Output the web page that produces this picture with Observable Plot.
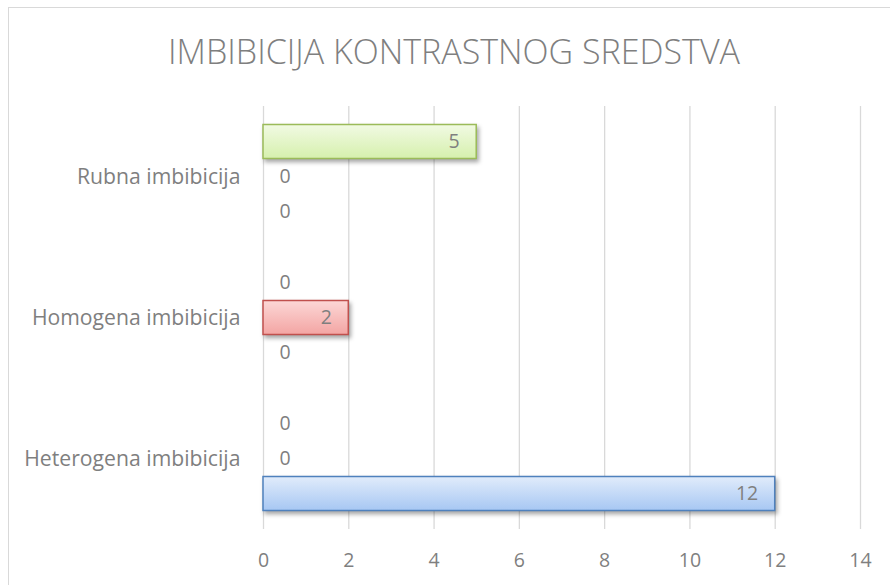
<!DOCTYPE html>
<html>
<head>
<meta charset="utf-8">
<script src="https://cdn.jsdelivr.net/npm/d3@7"></script>
<script src="https://cdn.jsdelivr.net/npm/@observablehq/plot@0.6"></script>
<style>
  html, body { margin: 0; padding: 0; background: #fff; }
  #wrap { position: relative; width: 890px; height: 585px; overflow: hidden; }
  #frame { position: absolute; left: 8px; top: 7px; width: 900px; height: 600px; border: 1px solid #d9d9d9; box-sizing: border-box; }
  #title { position: absolute; left: 8px; width: 892px; top: 31px; text-align: center;
           font-family: "Open Sans", sans-serif; font-weight: 300; font-size: 34px; color: #7f7f7f; line-height: 1.2; }
  #chart { position: absolute; left: 0; top: 0; }
  #chart svg text { font-size: 19.5px; }
  #chart svg text.catlabel { font-size: 21.2px; }
  #chart g[aria-label="bar"] rect { filter: drop-shadow(2px 3px 2px rgba(0,0,0,0.35)); }
</style>
</head>
<body>
<div id="wrap">
  <div id="frame"></div>
  <div id="chart"></div>
  <div id="title">IMBIBICIJA KONTRASTNOG SREDSTVA</div>
</div>
<script>
const categories = ["Heterogena imbibicija", "Homogena imbibicija", "Rubna imbibicija"];
const seriesNames = ["Serija 1", "Serija 2", "Serija 3"];
const serija1 = [12, 0, 0];
const serija2 = [0, 2, 0];
const serija3 = [0, 0, 5];
const xTicks = [0, 2, 4, 6, 8, 10, 12, 14];
const seriesFill = ["url(#gBlue)", "url(#gRed)", "url(#gGreen)"];
const seriesStroke = ["#4f81bd", "#c0504d", "#9bbb59"];

const seriesValues = [serija1, serija2, serija3];
const rows = [];
categories.forEach((c, ci) => {
  seriesNames.forEach((s, si) => {
    rows.push({category: c, series: s, value: seriesValues[si][ci], si});
  });
});

const textColor = "#7f7f7f";
const chart = Plot.plot({
  width: 890,
  height: 585,
  marginLeft: 263,
  marginRight: 30,
  marginTop: 106,
  marginBottom: 56,
  style: {fontFamily: "'Open Sans', sans-serif", fontSize: "19.5px", color: textColor, background: "transparent"},
  facet: {data: rows, y: "category"},
  fy: {domain: categories.slice().reverse(), padding: 0, label: null, tickSize: 0, tickPadding: 23},
  y: {domain: seriesNames.slice().reverse(), paddingInner: 0, paddingOuter: 0.5, axis: null},
  x: {domain: [0, 14], ticks: xTicks, tickSize: 0, tickPadding: 24, label: null, tickFormat: d => String(d)},
  color: {type: "identity"},
  marks: [
    Plot.ruleX(xTicks, {stroke: "#d9d9d9", strokeWidth: 1.3}),
    Plot.barX(rows, {
      filter: d => d.value > 0,
      x: "value", y: "series",
      fill: d => seriesFill[d.si],
      stroke: d => seriesStroke[d.si],
      strokeWidth: 1.5,
      insetTop: 0.5, insetBottom: 0.5
    }),
    Plot.text(rows, {
      filter: d => d.value > 0,
      x: "value", y: "series", text: d => String(d.value),
      textAnchor: "end", dx: -17, fill: textColor
    }),
    Plot.text(rows, {
      filter: d => d.value === 0,
      x: "value", y: "series", text: d => String(d.value),
      textAnchor: "start", dx: 16, fill: textColor
    })
  ]
});

// enlarge category labels
chart.querySelectorAll("text").forEach(t => {
  if (categories.includes(t.textContent)) t.classList.add("catlabel");
});

// gradient definitions
const ns = "http://www.w3.org/2000/svg";
const defs = document.createElementNS(ns, "defs");
const grads = [
  ["gBlue", "#e1ecfb", "#a7c7f3"],
  ["gRed", "#fcd7d6", "#f3a5a3"],
  ["gGreen", "#f1fae3", "#d6f0ad"]
];
grads.forEach(([id, c1, c2]) => {
  const g = document.createElementNS(ns, "linearGradient");
  g.setAttribute("id", id);
  g.setAttribute("x1", "0"); g.setAttribute("y1", "0");
  g.setAttribute("x2", "0"); g.setAttribute("y2", "1");
  [[0, c1], [1, c2]].forEach(([o, c]) => {
    const s = document.createElementNS(ns, "stop");
    s.setAttribute("offset", o);
    s.setAttribute("stop-color", c);
    g.appendChild(s);
  });
  defs.appendChild(g);
});
chart.insertBefore(defs, chart.firstChild);
document.getElementById("chart").appendChild(chart);
</script>
</body>
</html>
